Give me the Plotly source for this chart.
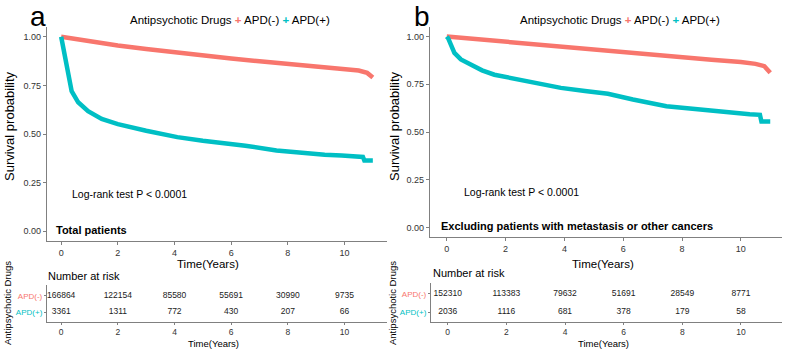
import plotly.graph_objects as go

# ---------------- data ----------------
# Panel a: Total patients
a_neg_t = [0, 1, 2, 3, 4, 5, 6, 7, 8, 9, 10, 10.5, 10.8, 11.0]
a_neg_s = [1.0, 0.975, 0.955, 0.937, 0.92, 0.902, 0.888, 0.874, 0.86, 0.847, 0.836, 0.826, 0.814, 0.79]
a_pos_t = [0, 0.05, 0.14, 0.26, 0.37, 0.6, 0.95, 1.43, 2.0, 3.0, 4.1, 5.0, 5.8, 6.5, 7.6, 8.5, 9.3, 9.9, 10.5, 10.65, 10.7, 11.0]
a_pos_s = [1.0, 0.96, 0.89, 0.79, 0.72, 0.663, 0.617, 0.577, 0.551, 0.517, 0.484, 0.465, 0.452, 0.44, 0.415, 0.402, 0.393, 0.389, 0.384, 0.382, 0.364, 0.364]

# Panel b: Excluding patients with metastasis or other cancers
b_neg_t = [0, 1, 2, 3, 4, 5, 6, 7, 8, 9, 10, 10.5, 10.8, 11.0]
b_neg_s = [1.0, 0.986, 0.972, 0.958, 0.944, 0.93, 0.916, 0.903, 0.891, 0.879, 0.867, 0.857, 0.845, 0.81]
b_pos_t = [0, 0.05, 0.14, 0.26, 0.48, 0.82, 1.2, 1.62, 2.2, 2.75, 3.3, 3.88, 4.7, 5.48, 6.33, 7.0, 7.47, 8.0, 8.6, 9.2, 9.74, 10.3, 10.65, 10.7, 11.0]
b_pos_s = [1.0, 0.99, 0.958, 0.914, 0.88, 0.85, 0.823, 0.80, 0.782, 0.766, 0.748, 0.731, 0.715, 0.70, 0.67, 0.648, 0.635, 0.627, 0.618, 0.605, 0.597, 0.593, 0.59, 0.555, 0.555]

risk_times = [0, 2, 4, 6, 8, 10]
a_risk_neg = [166864, 122154, 85580, 55691, 30990, 9735]
a_risk_pos = [3361, 1311, 772, 430, 207, 66]
b_risk_neg = [152310, 113383, 79632, 51691, 28549, 8771]
b_risk_pos = [2036, 1116, 681, 378, 179, 58]

y_ticks = [0, 0.25, 0.5, 0.75, 1.0]
y_ticklabels = ["0.00", "0.25", "0.50", "0.75", "1.00"]
x_ticks = [0, 2, 4, 6, 8, 10]
groups = ["APD(-)", "APD(+)"]

# ---------------- style ----------------
RED = "#F8766D"
TEAL = "#00BFC4"
AXC = "#808080"
NARROW = "Liberation Sans Narrow, Arial Narrow, Liberation Sans, Arial, sans-serif"
REG = "Liberation Sans, Arial, sans-serif"
W, H = 787, 349

def fx(p):
    return p / W

def fy(p):
    return 1 - p / H

fig = go.Figure()

def curve(t, s, color, xa, ya):
    fig.add_trace(go.Scatter(x=t, y=s, mode="lines", line=dict(color=color, width=4.5),
                             xaxis=xa, yaxis=ya, showlegend=False, hoverinfo="skip"))

curve(a_neg_t, a_neg_s, RED, "x", "y")
curve(a_pos_t, a_pos_s, TEAL, "x", "y")
curve(b_neg_t, b_neg_s, RED, "x2", "y2")
curve(b_pos_t, b_pos_s, TEAL, "x2", "y2")

def risk(vals, row, xa, ya):
    fig.add_trace(go.Scatter(x=risk_times, y=[row] * len(vals), mode="text",
                             text=[str(v) for v in vals],
                             textfont=dict(family=REG, size=8.5, color="#222222"),
                             xaxis=xa, yaxis=ya, showlegend=False, hoverinfo="skip"))

risk(a_risk_neg, 2, "x3", "y3")
risk(a_risk_pos, 1, "x3", "y3")
risk(b_risk_neg, 2, "x4", "y4")
risk(b_risk_pos, 1, "x4", "y4")

common_axis = dict(showline=True, linecolor=AXC, linewidth=1.2, ticks="outside", ticklen=3,
                   tickcolor=AXC, showgrid=False, zeroline=False,
                   tickfont=dict(family=REG, size=9, color="#333333"))

def xax(l, r, rng, anchor, size=9, ticklen=3):
    return dict(common_axis, domain=[fx(l), fx(r)], range=rng, anchor=anchor,
                tickvals=x_ticks, ticklen=ticklen,
                tickfont=dict(family=REG, size=size, color="#333333"))

def yax_main(t, b, anchor):
    return dict(common_axis, domain=[fy(b), fy(t)], range=[-0.05, 1.05], anchor=anchor,
                tickvals=y_ticks, ticktext=y_ticklabels)

def yax_tab(t, b, anchor, rng):
    return dict(common_axis, domain=[fy(b), fy(t)], range=rng, anchor=anchor,
                tickvals=[2, 1], ticklen=2,
                ticktext=[f"<span style='color:{RED}'>{groups[0]}</span>",
                          f"<span style='color:{TEAL}'>{groups[1]}</span>"],
                tickfont=dict(family=REG, size=8))

fig.update_layout(
    width=W, height=H, margin=dict(l=0, r=0, t=0, b=0),
    paper_bgcolor="white", plot_bgcolor="white", showlegend=False,
    xaxis=xax(47, 387, [-0.5, 11.5], "y"),
    yaxis=yax_main(27, 241, "x"),
    xaxis2=xax(430, 782, [-0.57, 11.4], "y2"),
    yaxis2=yax_main(27, 237, "x2"),
    xaxis3=xax(47, 387, [-0.5, 11.5], "y3", size=8.5, ticklen=2),
    yaxis3=yax_tab(285, 322, "x3", [0.41, 2.65]),
    xaxis4=xax(431, 782, [-0.57, 11.4], "y4", size=8.5, ticklen=2),
    yaxis4=yax_tab(283, 322, "x4", [0.47, 2.58]),
)

ann = []

def text(s, x, y, size, family=NARROW, xanchor="center", color="black", angle=0):
    ann.append(dict(text=s, x=fx(x), y=fy(y), xref="paper", yref="paper",
                    xanchor=xanchor, yanchor="middle", showarrow=False, textangle=angle,
                    font=dict(family=family, size=size, color=color)))

legend_txt = (f"Antipsychotic Drugs <span style='color:{RED}'><b>+</b></span> APD(-) "
              f"<span style='color:{TEAL}'><b>+</b></span> APD(+)")

# panel a
text("a", 38, 16, 28, family=REG)
text(legend_txt, 128, 20, 11.5, xanchor="left")
text("Survival probability", 10, 126, 13, angle=-90)
text("Time(Years)", 208, 264, 11.5)
text("Log-rank test P < 0.0001", 70, 194, 10.5, xanchor="left")
text("<b>Total patients</b>", 54, 230, 11, xanchor="left")
text("Number at risk", 46, 276, 11, family=REG, xanchor="left")
text("Antipsychotic Drugs", 7, 303, 9.5, family=REG, angle=-90)
text("Time(Years)", 213, 343, 9.5, family=REG)

# panel b
text("b", 422, 16, 28, family=REG)
text(legend_txt, 518, 20, 11.5, xanchor="left")
text("Survival probability", 395, 126, 13, angle=-90)
text("Time(Years)", 603, 264, 11.5)
text("Log-rank test P < 0.0001", 462, 192, 10.5, xanchor="left")
text("<b>Excluding patients with metastasis or other cancers</b>", 439, 226, 11, xanchor="left")
text("Number at risk", 431, 273, 11, family=REG, xanchor="left")
text("Antipsychotic Drugs", 392, 303, 9.5, family=REG, angle=-90)
text("Time(Years)", 603, 343, 9.5, family=REG)

fig.update_layout(annotations=ann)
fig.write_html("out.html", config={"displayModeBar": False},
               post_script="document.body.style.margin='0';document.body.style.padding='0';"
                           "document.body.style.overflow='hidden';")
